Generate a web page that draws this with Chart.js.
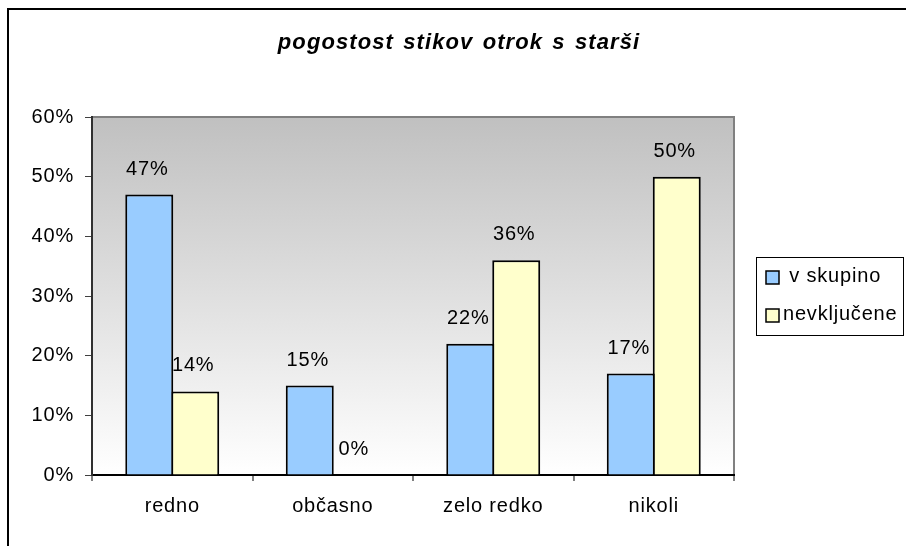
<!DOCTYPE html>
<html>
<head>
<meta charset="utf-8">
<script src="https://cdn.jsdelivr.net/npm/chart.js@4.4.1/dist/chart.umd.min.js"></script>
<style>
  html, body { margin: 0; padding: 0; background: #ffffff; }
  #wrap { position: relative; width: 906px; height: 546px; }
  canvas { display: block; }
</style>
</head>
<body>
<div id="wrap"><canvas id="c" width="906" height="546"></canvas></div>
<script>
const chartTitle = 'pogostost stikov otrok s starši';
const categories = ['redno', 'občasno', 'zelo redko', 'nikoli'];
const seriesNames = [' v skupino', 'nevključene'];
const vSkupino = [47, 15, 22, 17];
const nevkljucene = [14, 0, 36, 50];
const yMin = 0, yMax = 60, yStep = 10;

const FONT = '"Liberation Sans", Arial, sans-serif';
const seriesColors = ['#99ccff', '#ffffcc'];

const framePlugin = {
  id: 'frame',
  beforeDraw(chart) {
    const ctx = chart.ctx;
    const a = chart.chartArea;
    try { ctx.letterSpacing = '0.8px'; } catch (e) {}
    ctx.save();
    // plot area gradient
    const g = ctx.createLinearGradient(0, a.top, 0, a.bottom);
    g.addColorStop(0, '#c0c0c0');
    g.addColorStop(1, '#ffffff');
    ctx.fillStyle = g;
    ctx.fillRect(a.left, a.top, a.right - a.left, a.bottom - a.top);
    ctx.strokeStyle = '#808080';
    ctx.lineWidth = 2;
    ctx.beginPath();
    ctx.moveTo(a.left, a.top);
    ctx.lineTo(a.right, a.top);
    ctx.lineTo(a.right, a.bottom);
    ctx.stroke();
    // outer chart border (top and left)
    ctx.strokeStyle = '#000000';
    ctx.lineWidth = 2;
    ctx.beginPath();
    ctx.moveTo(8, 546);
    ctx.lineTo(8, 9);
    ctx.lineTo(906, 9);
    ctx.stroke();
    // title
    ctx.fillStyle = '#000000';
    ctx.font = 'italic bold 22px ' + FONT;
    try { ctx.letterSpacing = '1.1px'; ctx.wordSpacing = '2px'; } catch (e) {}
    ctx.textAlign = 'center';
    ctx.textBaseline = 'alphabetic';
    ctx.fillText(chartTitle, 459, 49);
    ctx.restore();
  },
  afterDatasetsDraw(chart) {
    const ctx = chart.ctx;
    ctx.save();
    ctx.fillStyle = '#000000';
    ctx.font = '20px ' + FONT;
    ctx.textAlign = 'center';
    ctx.textBaseline = 'alphabetic';
    chart.data.datasets.forEach((ds, i) => {
      const meta = chart.getDatasetMeta(i);
      meta.data.forEach((bar, j) => {
        ctx.fillText(ds.data[j] + '%', bar.x - 2, bar.y - 20);
      });
    });
    // legend
    const lx = 756, ly = 257, lw = 147, lh = 78;
    ctx.strokeStyle = '#000000';
    ctx.lineWidth = 1;
    ctx.strokeRect(lx + 0.5, ly + 0.5, lw, lh);
    const rows = [277.5, 315.5];
    chart.data.datasets.forEach((ds, i) => {
      const cy = rows[i];
      ctx.fillStyle = ds.backgroundColor;
      ctx.fillRect(766, cy - 6.5, 13, 13);
      ctx.lineWidth = 1.5;
      ctx.strokeStyle = '#000000';
      ctx.strokeRect(766, cy - 6.5, 13, 13);
      ctx.fillStyle = '#000000';
      ctx.textAlign = 'left';
      ctx.textBaseline = 'middle';
      ctx.fillText(ds.label, 783, cy - 1);
    });
    ctx.restore();
  }
};

new Chart(document.getElementById('c'), {
  type: 'bar',
  data: {
    labels: categories,
    datasets: [
      { label: seriesNames[0], data: vSkupino, backgroundColor: seriesColors[0] },
      { label: seriesNames[1], data: nevkljucene, backgroundColor: seriesColors[1] }
    ]
  },
  options: {
    responsive: false,
    animation: false,
    devicePixelRatio: 1,
    layout: { padding: { top: 117, right: 172, bottom: 0, left: 0 } },
    datasets: {
      bar: {
        borderColor: '#000000',
        borderWidth: 2,
        borderSkipped: 'start',
        categoryPercentage: 0.573,
        barPercentage: 1.0435
      }
    },
    plugins: {
      legend: { display: false },
      title: { display: false },
      tooltip: { enabled: false }
    },
    scales: {
      x: {
        offset: true,
        grid: {
          offset: true,
          drawOnChartArea: false,
          drawTicks: true,
          tickLength: 6,
          color: '#808080',
          lineWidth: 2
        },
        border: { display: true, color: '#000000', width: 2 },
        ticks: {
          color: '#000000',
          font: { family: FONT, size: 20 },
          padding: 13
        },
        afterFit(scale) { scale.height = 71; }
      },
      y: {
        min: yMin,
        max: yMax,
        ticks: {
          stepSize: yStep,
          color: '#000000',
          font: { family: FONT, size: 20 },
          padding: 11,
          callback: (v) => v + '%'
        },
        grid: {
          drawOnChartArea: false,
          drawTicks: true,
          tickLength: 7,
          color: '#404040',
          lineWidth: 1
        },
        border: { display: true, color: '#303030', width: 2 },
        afterFit(scale) { scale.width = 92; }
      }
    }
  },
  plugins: [framePlugin]
});
</script>
</body>
</html>
